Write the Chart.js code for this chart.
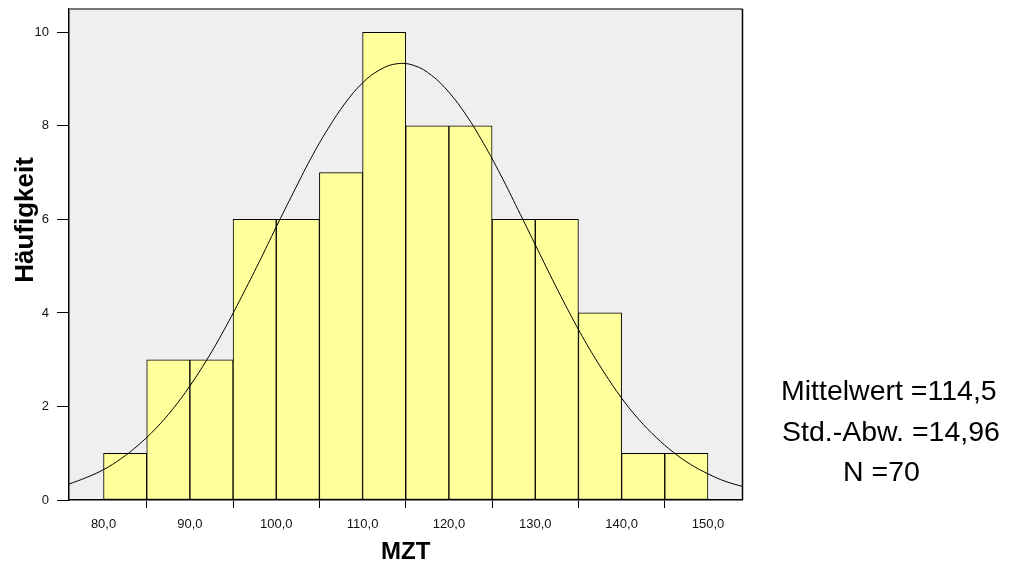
<!DOCTYPE html>
<html>
<head>
<meta charset="utf-8">
<script src="https://cdn.jsdelivr.net/npm/chart.js@4/dist/chart.umd.min.js"></script>
<style>
  html, body { margin: 0; padding: 0; background: #ffffff; }
  #wrap { position: relative; width: 1013px; height: 562px; }
</style>
</head>
<body>
<div id="wrap"><canvas id="hist" width="1013" height="562"></canvas></div>
<script>
// Histogram of MZT: lower bin edges and counts per 5-unit bin
const binStarts = [80, 85, 90, 95, 100, 105, 110, 115, 120, 125, 130, 135, 140, 145];
const binCounts = [1, 3, 3, 6, 6, 7, 10, 8, 8, 6, 6, 4, 1, 1];
const binWidth = 5;

// Fitted normal curve (Mittelwert 114,5 / Std.-Abw. 14,96 / N 70), sampled along the axis
const curveX = [76, 78, 80, 82, 84, 86, 88, 90, 92, 94, 96, 98, 100, 102, 104, 106, 108, 110, 112, 114,
                116, 118, 120, 122, 124, 126, 128, 130, 132, 134, 136, 138, 140, 142, 144, 146, 148, 150, 152, 154];
const curveY = [0.34, 0.48, 0.65, 0.88, 1.17, 1.52, 1.94, 2.44, 3.01, 3.65, 4.35, 5.08, 5.84, 6.58, 7.30, 7.94, 8.49, 8.92, 9.20, 9.33,
                9.29, 9.08, 8.72, 8.23, 7.63, 6.95, 6.21, 5.46, 4.71, 3.99, 3.32, 2.72, 2.18, 1.72, 1.34, 1.02, 0.76, 0.56, 0.40, 0.29];

// Axis ticks
const xTickValues = [80, 90, 100, 110, 120, 130, 140, 150];
const xTickLabels = ['80,0', '90,0', '100,0', '110,0', '120,0', '130,0', '140,0', '150,0'];
const yTickValues = [0, 2, 4, 6, 8, 10];
const yTickLabels = ['0', '2', '4', '6', '8', '10'];

// Summary statistics shown beside the plot
const statLines = ['Mittelwert =114,5', 'Std.-Abw. =14,96', 'N =70'];
const xTitle = 'MZT';
const yTitle = 'Häufigkeit';

const FONT = 'Arial, "Liberation Sans", Helvetica, sans-serif';

const plotFrame = {
  id: 'plotFrame',
  beforeDraw(chart) {
    const { ctx, chartArea: a } = chart;
    ctx.save();
    ctx.fillStyle = '#efefef';
    ctx.fillRect(a.left, a.top, a.right - a.left, a.bottom - a.top);
    ctx.restore();
  },
  afterDraw(chart) {
    const { ctx, chartArea: a } = chart;
    ctx.save();
    // top and right frame lines
    ctx.strokeStyle = '#777777';
    ctx.lineWidth = 2;
    ctx.beginPath();
    ctx.moveTo(a.left, a.top);
    ctx.lineTo(a.right, a.top);
    ctx.stroke();
    ctx.strokeStyle = '#000000';
    ctx.lineWidth = 1.5;
    ctx.beginPath();
    ctx.moveTo(a.right, a.top);
    ctx.lineTo(a.right, a.bottom);
    ctx.stroke();

    // axis titles
    ctx.fillStyle = '#000000';
    ctx.font = 'bold 24px ' + FONT;
    ctx.textAlign = 'center';
    ctx.textBaseline = 'alphabetic';
    ctx.fillText(xTitle, (a.left + a.right) / 2, 559);

    ctx.save();
    ctx.translate(33, 220);
    ctx.rotate(-Math.PI / 2);
    ctx.font = 'bold 26px ' + FONT;
    ctx.fillText(yTitle, 0, 0);
    ctx.restore();

    // statistics block
    ctx.font = '28.5px ' + FONT;
    ctx.textAlign = 'left';
    const pos = [[781, 400], [782, 440.5], [843, 480.5]];
    statLines.forEach((t, i) => ctx.fillText(t, pos[i][0], pos[i][1]));
    ctx.restore();
  }
};

new Chart(document.getElementById('hist'), {
  type: 'bar',
  data: {
    datasets: [
      {
        type: 'line',
        data: curveX.map((x, i) => ({ x, y: curveY[i] })),
        borderColor: '#000000',
        borderWidth: 1,
        pointRadius: 0,
        tension: 0.4,
        fill: false,
        order: 0
      },
      {
        type: 'bar',
        data: binStarts.map((s, i) => ({ x: s + binWidth / 2, y: binCounts[i] })),
        backgroundColor: '#ffff9c',
        borderColor: '#000000',
        borderWidth: 1,
        borderSkipped: false,
        barPercentage: 1,
        categoryPercentage: 1,
        order: 1
      }
    ]
  },
  options: {
    responsive: false,
    animation: false,
    events: [],
    layout: { padding: { top: 9, right: 270.5, left: 0, bottom: 0 } },
    plugins: {
      legend: { display: false },
      tooltip: { enabled: false },
      title: { display: false }
    },
    scales: {
      x: {
        type: 'linear',
        min: 76,
        max: 154,
        offset: false,
        afterFit(scale) {
          scale.height = 62;
          scale.paddingLeft = 0;
          scale.paddingRight = 0;
        },
        afterBuildTicks(scale) { scale.ticks = xTickValues.map(v => ({ value: v })); },
        grid: {
          display: true,
          drawOnChartArea: false,
          drawTicks: true,
          tickLength: 8,
          tickColor: '#000000',
          tickWidth: 1
        },
        border: { display: true, color: '#000000', width: 1.5 },
        ticks: {
          padding: 9,
          color: '#111111',
          font: { family: FONT, size: 13 },
          maxRotation: 0,
          autoSkip: false,
          callback: (v, i) => xTickLabels[i]
        }
      },
      y: {
        type: 'linear',
        min: 0,
        max: 10.5,
        afterFit(scale) {
          scale.width = 69;
          scale.paddingTop = 0;
          scale.paddingBottom = 0;
        },
        afterBuildTicks(scale) { scale.ticks = yTickValues.map(v => ({ value: v })); },
        grid: {
          display: true,
          drawOnChartArea: false,
          drawTicks: true,
          tickLength: 12,
          tickColor: '#000000',
          tickWidth: 1
        },
        border: { display: true, color: '#000000', width: 1.5 },
        ticks: {
          padding: 8,
          color: '#111111',
          font: { family: FONT, size: 13 },
          autoSkip: false,
          callback: (v, i) => yTickLabels[i]
        }
      }
    }
  },
  plugins: [plotFrame]
});
</script>
</body>
</html>
